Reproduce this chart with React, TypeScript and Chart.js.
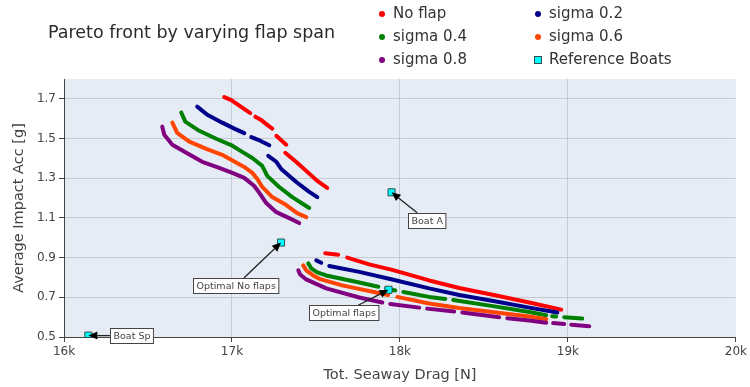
import React, { useEffect, useRef } from 'react';
import { Chart, registerables } from 'chart.js';

Chart.register(...registerables);

// ---------- data ----------
const seriesNames = ['No flap', 'sigma 0.2', 'sigma 0.4', 'sigma 0.6', 'sigma 0.8'];
const seriesColors = ['#ff0000', '#00008b', '#008000', '#ff4500', '#800080'];

const noFlapDrag = [16954, 16996, 17061, 17109, null, 17139, 17174, 17216, 17240, null, 17264, 17323, null, 17317, 17383, 17442, 17502, 17567, null, 17555, 17633, null, 17686, 17817, 17954, 18174, 18353, 18573, 18770, 18960];
const noFlapAcc = [1.709, 1.694, 1.656, 1.628, null, 1.610, 1.593, 1.565, 1.550, null, 1.514, 1.469, null, 1.428, 1.382, 1.337, 1.291, 1.251, null, 0.922, 0.915, null, 0.900, 0.866, 0.838, 0.785, 0.747, 0.709, 0.674, 0.638];

const sigma02Drag = [16793, 16853, 16942, 17014, 17073, null, 17115, 17168, 17222, null, 17216, 17264, 17293, 17383, 17460, 17508, null, 17502, 17531, null, 17579, 17758, 17954, 18174, 18353, 18573, 18770, 18937];
const sigma02Acc = [1.661, 1.620, 1.580, 1.550, 1.527, null, 1.507, 1.489, 1.466, null, 1.413, 1.383, 1.347, 1.281, 1.231, 1.205, null, 0.886, 0.874, null, 0.858, 0.828, 0.790, 0.745, 0.712, 0.679, 0.648, 0.623];

const sigma04Drag = [16698, 16722, 16805, 16906, 17002, 17061, 17121, 17180, 17210, 17281, 17359, 17460, null, 17454, 17472, 17508, 17561, 17758, 17871, null, 17918, 17972, null, 18020, 18174, 18270, null, 18317, 18573, 18770, 18871, null, 18906, 18930, null, 18978, 19085];
const sigma04Acc = [1.631, 1.585, 1.539, 1.499, 1.464, 1.433, 1.402, 1.362, 1.312, 1.256, 1.205, 1.150, null, 0.871, 0.846, 0.826, 0.810, 0.775, 0.753, null, 0.745, 0.734, null, 0.727, 0.702, 0.691, null, 0.686, 0.653, 0.626, 0.610, null, 0.605, 0.603, null, 0.600, 0.593];

const sigma06Drag = [16645, 16674, 16746, 16847, 16942, 17019, 17073, 17121, 17151, 17180, 17240, 17323, 17388, 17442, null, 17424, 17442, 17484, 17520, 17656, 17859, 17930, null, 17984, 18174, 18353, 18573, 18770, 18871];
const sigma06Acc = [1.580, 1.529, 1.484, 1.448, 1.418, 1.382, 1.357, 1.327, 1.296, 1.256, 1.205, 1.165, 1.124, 1.104, null, 0.861, 0.836, 0.810, 0.793, 0.760, 0.724, 0.712, null, 0.702, 0.669, 0.646, 0.623, 0.603, 0.590];

const sigma08Drag = [16585, 16597, 16645, 16728, 16823, 16924, 17002, 17073, 17133, 17163, 17204, 17264, 17341, 17400, null, 17395, 17406, 17442, 17561, 17758, 17895, null, 17942, 18115, null, 18162, 18323, null, 18371, 18591, null, 18639, 18770, 18871, null, 18912, 18978, null, 19020, 19127];
const sigma08Acc = [1.560, 1.519, 1.469, 1.428, 1.383, 1.352, 1.327, 1.302, 1.261, 1.226, 1.175, 1.129, 1.099, 1.074, null, 0.836, 0.815, 0.790, 0.745, 0.699, 0.674, null, 0.666, 0.648, null, 0.643, 0.628, null, 0.623, 0.600, null, 0.595, 0.583, 0.572, null, 0.570, 0.565, null, 0.562, 0.554];

const refName = 'Reference Boats';
const refLabels = ['Boat Sp', 'Optimal No flaps', 'Boat A', 'Optimal flaps'];
const refDrag = [16145, 17292, 17950, 17932];
const refAcc = [0.507, 0.976, 1.229, 0.738];

const xTickValues = [16000, 17000, 18000, 19000, 20000];
const xTickLabels = ['16k', '17k', '18k', '19k', '20k'];
const yTickValues = [0.5, 0.7, 0.9, 1.1, 1.3, 1.5, 1.7];
const yTickLabels = ['0.5', '0.7', '0.9', '1.1', '1.3', '1.5', '1.7'];

const chartTitle = 'Pareto front by varying flap span';
const xTitle = 'Tot. Seaway Drag [N]';
const yTitle = 'Average Impact Acc [g]';

// ---------- layout / style (not data) ----------
const FONT = '"DejaVu Sans", Verdana, sans-serif';
const labelOffsets = [[43, 0], [-45, 43], [35, 28], [-45, 23]];
const legendCols = [382, 538];
const legendRows = [14, 37, 60];

const seriesDrag = [noFlapDrag, sigma02Drag, sigma04Drag, sigma06Drag, sigma08Drag];
const seriesAcc = [noFlapAcc, sigma02Acc, sigma04Acc, sigma06Acc, sigma08Acc];

const decorPlugin = {
  id: 'decor',
  beforeDraw(chart: any) {
    const { ctx, chartArea: a } = chart;
    ctx.save();
    ctx.fillStyle = '#e5ecf6';
    ctx.fillRect(a.left, a.top, a.right - a.left, a.bottom - a.top);
    ctx.restore();
  },
  afterDraw(chart: any) {
    const { ctx } = chart;
    const xs = chart.scales.x;
    const ys = chart.scales.y;
    ctx.save();
    // title
    ctx.fillStyle = '#2a2a2a';
    ctx.font = `17.5px ${FONT}`;
    ctx.textBaseline = 'middle';
    ctx.textAlign = 'left';
    ctx.fillText(chartTitle, 48, 33);

    // legend
    const items = seriesNames.map((n, i) => ({ name: n, color: seriesColors[i], square: false }));
    items.push({ name: refName, color: '#00ffff', square: true });
    ctx.font = `15px ${FONT}`;
    items.forEach((it, i) => {
      const col = i % 2;
      const row = Math.floor(i / 2);
      const mx = legendCols[col];
      const my = legendRows[row];
      if (it.square) {
        ctx.fillStyle = it.color;
        ctx.fillRect(mx - 3.5, my - 3.5, 7, 7);
        ctx.strokeStyle = '#2f4f4f';
        ctx.lineWidth = 1;
        ctx.strokeRect(mx - 3.5, my - 3.5, 7, 7);
      } else {
        ctx.fillStyle = it.color;
        ctx.beginPath();
        ctx.arc(mx, my, 3, 0, Math.PI * 2);
        ctx.fill();
      }
      ctx.fillStyle = '#333';
      ctx.fillText(it.name, mx + 11, my);
    });

    // annotations
    ctx.font = `9.5px ${FONT}`;
    refLabels.forEach((lab, i) => {
      const px = xs.getPixelForValue(refDrag[i]);
      const py = ys.getPixelForValue(refAcc[i]);
      const cx = px + labelOffsets[i][0];
      const cy = py + labelOffsets[i][1];
      const tw = ctx.measureText(lab).width;
      const bw = tw + 6;
      const bh = 15;
      const dx = px - cx;
      const dy = py - cy;
      const tx = dx !== 0 ? (bw / 2) / Math.abs(dx) : Infinity;
      const ty = dy !== 0 ? (bh / 2) / Math.abs(dy) : Infinity;
      const t = Math.min(tx, ty);
      const sx = cx + dx * t;
      const sy = cy + dy * t;
      const len = Math.hypot(dx, dy);
      const ux = dx / len;
      const uy = dy / len;
      const head = 9;
      const hw = 4;
      const bx = px - ux * head;
      const by = py - uy * head;
      ctx.strokeStyle = '#222';
      ctx.lineWidth = 1.3;
      ctx.beginPath();
      ctx.moveTo(sx, sy);
      ctx.lineTo(bx, by);
      ctx.stroke();
      ctx.fillStyle = '#000';
      ctx.beginPath();
      ctx.moveTo(px, py);
      ctx.lineTo(bx - uy * hw, by + ux * hw);
      ctx.lineTo(bx + uy * hw, by - ux * hw);
      ctx.closePath();
      ctx.fill();
      const left = Math.round(cx - bw / 2) + 0.5;
      const top = Math.round(cy - bh / 2) + 0.5;
      ctx.fillStyle = '#fff';
      ctx.fillRect(left, top, bw, bh);
      ctx.strokeStyle = '#444';
      ctx.lineWidth = 1;
      ctx.strokeRect(left, top, bw, bh);
      ctx.fillStyle = '#444';
      ctx.textAlign = 'center';
      ctx.textBaseline = 'middle';
      ctx.fillText(lab, left + bw / 2, top + bh / 2 + 0.5);
    });
    ctx.restore();
  },
};

export default function App() {
  const ref = useRef<HTMLCanvasElement | null>(null);
  useEffect(() => {
    document.body.style.margin = '0';
    const canvas = ref.current;
    if (!canvas) return;
    const datasets: any[] = seriesNames.map((name, i) => ({
      label: name,
      data: seriesDrag[i].map((d, j) => ({ x: d, y: seriesAcc[i][j] })),
      showLine: true,
      borderColor: seriesColors[i],
      backgroundColor: seriesColors[i],
      borderWidth: 4,
      pointRadius: 0,
      pointHoverRadius: 0,
      spanGaps: false,
      borderCapStyle: 'round',
      borderJoinStyle: 'round',
      tension: 0,
      order: 10 - i,
    }));
    datasets.push({
      label: refName,
      data: refDrag.map((d, j) => ({ x: d, y: refAcc[j] })),
      showLine: false,
      pointStyle: 'rect',
      pointRadius: 5,
      backgroundColor: '#00ffff',
      borderColor: '#2f4f4f',
      borderWidth: 1,
      order: 0,
    });
    const chart = new Chart(canvas, {
      type: 'scatter',
      data: { datasets },
      options: {
        responsive: false,
        animation: false,
        devicePixelRatio: 1,
        layout: { padding: { top: 79, right: 13, left: 0, bottom: 0 } },
        plugins: { legend: { display: false }, tooltip: { enabled: false }, title: { display: false } },
        scales: {
          x: {
            type: 'linear',
            min: 16000,
            max: 20000,
            afterBuildTicks: (s: any) => { s.ticks = xTickValues.map((v) => ({ value: v })); },
            afterFit: (s: any) => { s.height = 50; },
            ticks: {
              callback: (_v: any, idx: number) => xTickLabels[idx],
              font: { family: FONT, size: 12 },
              color: '#444',
              padding: 3,
              maxRotation: 0,
              autoSkip: false,
            },
            grid: {
              color: (c: any) => (c.tick && (c.tick.value === 20000 || c.tick.value === 16000) ? 'rgba(0,0,0,0)' : '#c6cad2'),
              tickColor: '#444',
              tickLength: 5,
              lineWidth: 1,
            },
            border: { color: '#444', width: 1 },
            title: { display: true, text: xTitle, font: { family: FONT, size: 14.5 }, color: '#444', padding: { top: 0, bottom: 3 } },
          },
          y: {
            type: 'linear',
            min: 0.5,
            max: 1.8,
            afterBuildTicks: (s: any) => { s.ticks = yTickValues.map((v) => ({ value: v })); },
            afterFit: (s: any) => { s.width = 64; },
            ticks: {
              callback: (_v: any, idx: number) => yTickLabels[idx],
              font: { family: FONT, size: 12 },
              color: '#444',
              padding: 3,
              autoSkip: false,
            },
            grid: {
              color: (c: any) => (c.tick && c.tick.value === 0.5 ? 'rgba(0,0,0,0)' : '#c6cad2'),
              tickColor: '#444',
              tickLength: 5,
              lineWidth: 1,
            },
            border: { color: '#444', width: 1 },
            title: { display: true, text: yTitle, font: { family: FONT, size: 14.5 }, color: '#444', padding: { top: 11, bottom: 0 } },
          },
        },
      },
      plugins: [decorPlugin],
    } as any);
    return () => chart.destroy();
  }, []);
  return (
    <div style={{ position: 'absolute', left: 0, top: 0, width: 750, height: 387 }}>
      <canvas ref={ref} width={750} height={387} style={{ display: 'block', width: 750, height: 387 }} />
    </div>
  );
}
